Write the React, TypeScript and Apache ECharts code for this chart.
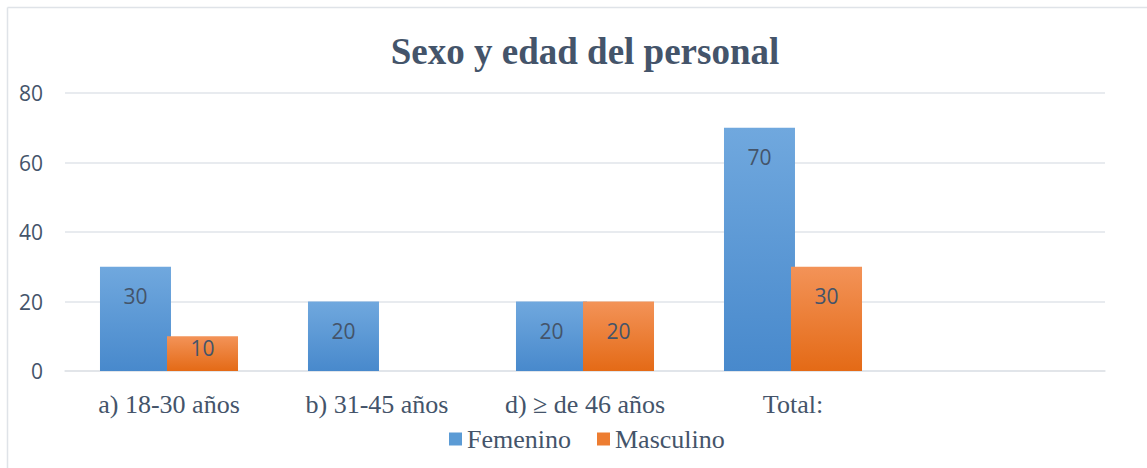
import React, { useEffect, useRef } from "react";
import * as echarts from "echarts";

const categories = ["a) 18-30 años", "b) 31-45 años", "d) ≥ de 46 años", "Total:", ""];
const femenino: (number | null)[] = [30, 20, 20, 70, null];
const masculino: (number | null)[] = [10, null, 20, 30, null];
const yTicks = { min: 0, max: 80, interval: 20 };

const TEXT = "#44546a";
const SERIF = "'Liberation Serif', 'Times New Roman', serif";
const SANS = "'Open Sans', 'Noto Sans', sans-serif";

function grad(top: string, bottom: string) {
  return new echarts.graphic.LinearGradient(0, 0, 0, 1, [
    { offset: 0, color: top },
    { offset: 1, color: bottom },
  ]);
}

function toData(vals: (number | null)[]) {
  return vals.map((v) =>
    v == null
      ? "-"
      : { value: v, label: { distance: v < 15 ? 1 : 19 } }
  );
}

export default function App() {
  const ref = useRef<HTMLDivElement>(null);
  useEffect(() => {
    if (!ref.current) return;
    const chart = echarts.init(ref.current, null, { renderer: "svg" });
    const label = {
      show: true,
      position: "insideTop",
      color: TEXT,
      fontFamily: SANS,
      fontSize: 21,
    };
    chart.setOption({
      animation: false,
      backgroundColor: "#ffffff",
      title: {
        text: "Sexo y edad del personal",
        left: 580,
        textAlign: "center",
        top: 28,
        textStyle: { fontFamily: SERIF, fontWeight: "bold", fontSize: 37, color: TEXT },
      },
      graphic: [
        { type: "line", shape: { x1: 7.5, y1: 7.5, x2: 7.5, y2: 470 }, style: { stroke: "#dfe3e8", lineWidth: 1.5 } },
        { type: "line", shape: { x1: 7.5, y1: 7.5, x2: 1150, y2: 7.5 }, style: { stroke: "#dfe3e8", lineWidth: 1.5 } },
      ],
      legend: {
        left: 444,
        top: 421,
        itemWidth: 13,
        itemHeight: 13,
        itemGap: 26,
        icon: "rect",
        textStyle: { fontFamily: SERIF, fontSize: 26, color: TEXT },
        data: [
          { name: "Femenino", itemStyle: { color: "#5b9bd5" } },
          { name: "Masculino", itemStyle: { color: "#ed7d31" } },
        ],
      },
      grid: { left: 65, right: 42, top: 93, bottom: 97 },
      xAxis: {
        type: "category",
        data: categories,
        axisLine: { show: true, lineStyle: { color: "#dfe3e8", width: 1.5 } },
        axisTick: { show: false },
        axisLabel: { interval: 0, fontFamily: SERIF, fontSize: 26, color: TEXT, margin: 20 },
      },
      yAxis: {
        type: "value",
        min: yTicks.min,
        max: yTicks.max,
        interval: yTicks.interval,
        axisLine: { show: false },
        axisTick: { show: false },
        splitLine: { lineStyle: { color: "#e1e4ea", width: 1.5 } },
        axisLabel: { fontFamily: SANS, fontSize: 21, color: TEXT, margin: 22 },
      },
      series: [
        {
          name: "Femenino",
          type: "bar",
          data: toData(femenino),
          barWidth: 71,
          barGap: "-5.6%",
          itemStyle: { color: grad("#70a8de", "#4889cc") },
          label,
        },
        {
          name: "Masculino",
          type: "bar",
          data: toData(masculino),
          barWidth: 71,
          barGap: "-5.6%",
          itemStyle: { color: grad("#f39358", "#e46a16") },
          label,
        },
      ],
    });
    return () => chart.dispose();
  }, []);
  return (
    <div
      ref={ref}
      style={{ position: "fixed", left: 0, top: 0, width: 1147, height: 468 }}
    />
  );
}
